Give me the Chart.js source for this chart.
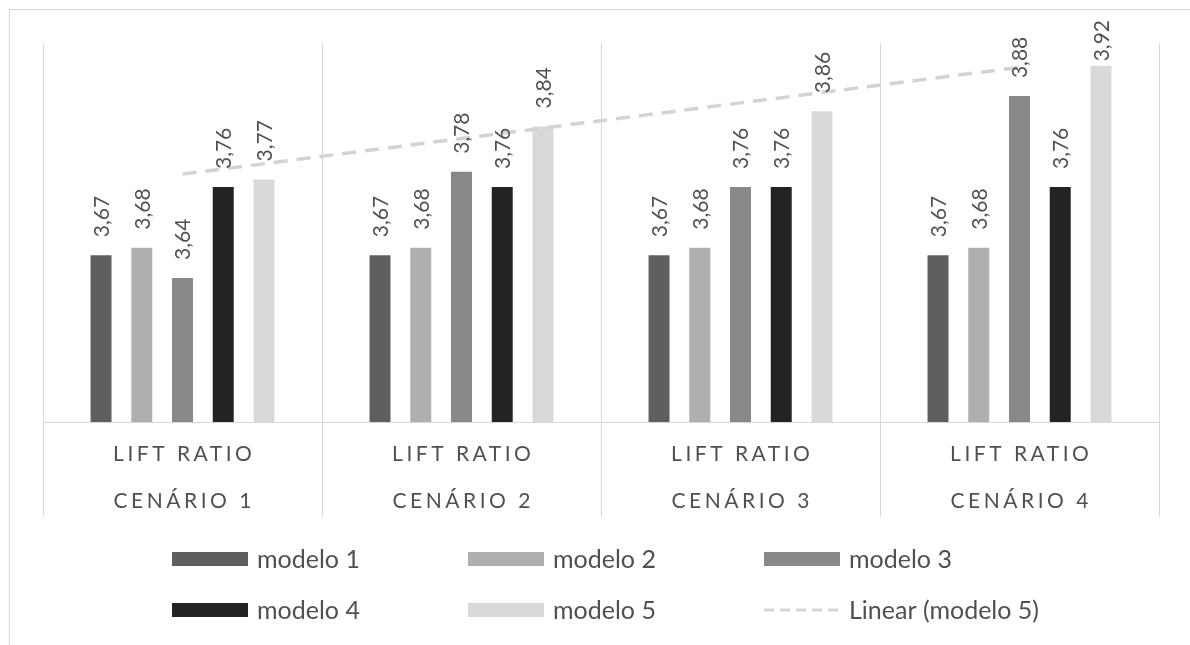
<!DOCTYPE html>
<html>
<head>
<meta charset="utf-8">
<title>Lift ratio por cenário</title>
<script src="https://cdn.jsdelivr.net/npm/chart.js@4.4.1/dist/chart.umd.min.js"></script>
<style>
  html, body { margin: 0; padding: 0; background: #ffffff; overflow: hidden; }
  #frame {
    position: absolute; left: 9px; top: 9px; width: 1400px; height: 900px;
    border-left: 1px solid #d9d9d9; border-top: 1px solid #d9d9d9;
  }
  #wrap { position: absolute; left: 0; top: 0; width: 1190px; height: 645px; }
</style>
</head>
<body>
<div id="frame"></div>
<div id="wrap"><canvas id="chart" width="1190" height="645"></canvas></div>
<script>
// Categories (two-line labels) and the five model series
const categories = [
  ['LIFT RATIO', 'CENÁRIO 1'],
  ['LIFT RATIO', 'CENÁRIO 2'],
  ['LIFT RATIO', 'CENÁRIO 3'],
  ['LIFT RATIO', 'CENÁRIO 4']
];
const seriesNames = ['modelo 1', 'modelo 2', 'modelo 3', 'modelo 4', 'modelo 5'];
const modelo1 = [3.67, 3.67, 3.67, 3.67];
const modelo2 = [3.68, 3.68, 3.68, 3.68];
const modelo3 = [3.64, 3.78, 3.76, 3.88];
const modelo4 = [3.76, 3.76, 3.76, 3.76];
const modelo5 = [3.77, 3.84, 3.86, 3.92];
const trendName = 'Linear (modelo 5)';

const seriesValues = [modelo1, modelo2, modelo3, modelo4, modelo5];
const seriesColors = ['#5f5f5f', '#afafaf', '#888888', '#232323', '#d9d9d9'];
const trendColor = '#d3d3d3';
const textColor = '#505050';
const gridColor = '#d9d9d9';

// Least-squares linear trend of modelo 5 over the category index
function linearTrend(values) {
  const n = values.length;
  const xs = values.map((_, i) => i + 1);
  const mx = xs.reduce((a, b) => a + b, 0) / n;
  const my = values.reduce((a, b) => a + b, 0) / n;
  let num = 0, den = 0;
  for (let i = 0; i < n; i++) {
    num += (xs[i] - mx) * (values[i] - my);
    den += (xs[i] - mx) * (xs[i] - mx);
  }
  const slope = num / den;
  return xs.map(x => my + slope * (x - mx));
}

// Category axis that draws its labels with extra letter spacing
class SpacedCategoryScale extends Chart.CategoryScale {
  static id = 'spacedCategory';
  drawLabels(area) {
    const ctx = this.ctx;
    const spacing = this.options.ticks.letterSpacing || 0;
    ctx.save();
    ctx.letterSpacing = spacing + 'px';
    ctx.translate(spacing / 2, 0);
    super.drawLabels(area);
    ctx.restore();
  }
}
Chart.register(SpacedCategoryScale);

const fmt = v => v.toFixed(2).replace('.', ',');

// Rotated value labels above each bar, kept below the top margin
const barValueLabels = {
  id: 'barValueLabels',
  afterDatasetsDraw(chart) {
    const ctx = chart.ctx;
    const minTop = chart.chartArea.top - 23;
    ctx.save();
    ctx.font = '21px Lato';
    ctx.fillStyle = textColor;
    ctx.textAlign = 'left';
    ctx.textBaseline = 'middle';
    chart.data.datasets.forEach((ds, di) => {
      if (ds.type === 'line') return;
      const meta = chart.getDatasetMeta(di);
      meta.data.forEach((bar, i) => {
        const text = fmt(ds.data[i]);
        const w = ctx.measureText(text).width;
        let start = bar.y - 18;
        if (start - w < minTop) start = minTop + w;
        ctx.save();
        ctx.translate(bar.x + 1, start);
        ctx.rotate(-Math.PI / 2);
        ctx.fillText(text, 0, 0);
        ctx.restore();
      });
    });
    ctx.restore();
  }
};

// Legend laid out as a grid of three columns
const gridLegend = {
  id: 'gridLegend',
  afterDraw(chart, args, opts) {
    const ctx = chart.ctx;
    ctx.save();
    ctx.font = opts.fontSize + 'px Lato';
    ctx.textBaseline = 'middle';
    ctx.textAlign = 'left';
    chart.data.datasets.forEach((ds, i) => {
      const col = i % opts.columns;
      const row = Math.floor(i / opts.columns);
      const x = opts.left + col * opts.colStep;
      const y = opts.top + row * opts.rowStep;
      if (ds.type === 'line') {
        ctx.save();
        ctx.strokeStyle = ds.borderColor;
        ctx.lineWidth = 3;
        ctx.setLineDash([10, 6]);
        ctx.beginPath();
        ctx.moveTo(x, y);
        ctx.lineTo(x + opts.boxWidth, y);
        ctx.stroke();
        ctx.restore();
      } else {
        ctx.fillStyle = ds.backgroundColor;
        ctx.fillRect(x, y - opts.boxHeight / 2, opts.boxWidth, opts.boxHeight);
      }
      ctx.fillStyle = textColor;
      ctx.fillText(ds.label, x + opts.boxWidth + 9, y + 1);
    });
    ctx.restore();
  }
};

function build() {
  const datasets = seriesNames.map((name, i) => ({
    type: 'bar',
    label: name,
    data: seriesValues[i],
    backgroundColor: seriesColors[i],
    borderWidth: 0,
    categoryPercentage: 0.73,
    barPercentage: 0.515,
    order: 2
  }));
  datasets.push({
    type: 'line',
    label: trendName,
    data: linearTrend(modelo5),
    borderColor: trendColor,
    borderWidth: 3.5,
    borderDash: [14, 9],
    pointRadius: 0,
    fill: false,
    tension: 0,
    order: 1
  });

  new Chart(document.getElementById('chart'), {
    type: 'bar',
    data: { labels: categories, datasets },
    plugins: [barValueLabels, gridLegend],
    options: {
      responsive: false,
      animation: false,
      layout: { padding: { top: 43, left: 43, right: 31, bottom: 128 } },
      plugins: {
        legend: { display: false },
        tooltip: { enabled: false },
        gridLegend: {
          columns: 3, left: 172, top: 559, colStep: 296, rowStep: 51,
          boxWidth: 76, boxHeight: 14, fontSize: 25
        }
      },
      scales: {
        x: {
          type: 'spacedCategory',
          offset: true,
          grid: { color: gridColor, lineWidth: 1, offset: true, drawTicks: true, tickLength: 95 },
          border: { color: gridColor, width: 1 },
          ticks: {
            color: textColor,
            font: { family: 'Lato', size: 21, lineHeight: '47px' },
            letterSpacing: 3.5,
            padding: -86,
            maxRotation: 0,
            autoSkip: false
          },
          afterFit(scale) { scale.height = 95; }
        },
        y: {
          display: false,
          min: 3.45,
          max: 3.95
        }
      }
    }
  });
}

if (document.fonts && document.fonts.load) {
  Promise.all([document.fonts.load('21px Lato'), document.fonts.load('25px Lato')])
    .then(build, build);
} else {
  build();
}
</script>
</body>
</html>
